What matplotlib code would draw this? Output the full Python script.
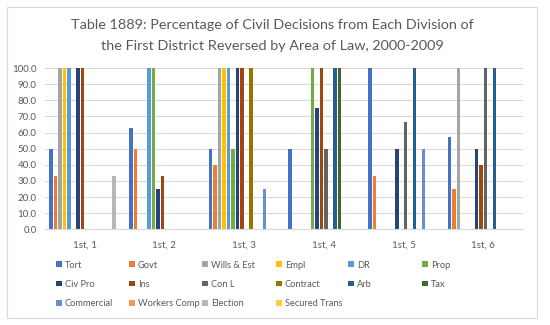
import matplotlib
matplotlib.use("Agg")
import matplotlib.pyplot as plt
from matplotlib.patches import Rectangle, Patch
import numpy as np

plt.rcParams['font.family'] = ['Lato', 'DejaVu Sans']

categories = ["1st, 1", "1st, 2", "1st, 3", "1st, 4", "1st, 5", "1st, 6"]
series_names = ["Tort", "Govt", "Wills & Est", "Empl", "DR", "Prop",
                "Civ Pro", "Ins", "Con L", "Contract", "Arb", "Tax",
                "Commercial", "Workers Comp", "Election", "Secured Trans"]
colors = ["#4472C4", "#ED7D31", "#A5A5A5", "#FFC000", "#5B9BD5", "#70AD47",
          "#264478", "#9E480E", "#636363", "#997300", "#255E91", "#43682B",
          "#698ED0", "#F1975A", "#B7B7B7", "#FFCD33"]
title_lines = ["Table 1889: Percentage of Civil Decisions from Each Division of",
               "the First District Reversed by Area of Law, 2000-2009"]

tort         = [50.0, 62.5, 50.0, 50.0, 100.0, 57.1]
govt         = [33.3, 50.0, 40.0, 0, 33.3, 25.0]
wills_est    = [100.0, 0, 100.0, 0, 0, 100.0]
empl         = [100.0, 0, 100.0, 0, 0, 0]
dr           = [100.0, 100.0, 100.0, 0, 0, 0]
prop         = [0, 100.0, 50.0, 100.0, 0, 0]
civ_pro      = [100.0, 25.0, 100.0, 75.0, 50.0, 50.0]
ins          = [100.0, 33.3, 100.0, 100.0, 0, 40.0]
con_l        = [0, 0, 0, 50.0, 66.7, 100.0]
contract     = [0, 0, 100.0, 0, 0, 0]
arb          = [0, 0, 0, 100.0, 100.0, 100.0]
tax          = [0, 0, 0, 100.0, 0, 0]
commercial   = [0, 0, 25.0, 0, 50.0, 0]
workers_comp = [0, 0, 0, 0, 0, 0]
election     = [33.3, 0, 0, 0, 0, 0]
secured      = [0, 0, 0, 0, 0, 0]

data = [tort, govt, wills_est, empl, dr, prop, civ_pro, ins, con_l, contract,
        arb, tax, commercial, workers_comp, election, secured]

W, H = 550, 325
fig = plt.figure(figsize=(W / 100, H / 100), dpi=100)
fig.patch.set_facecolor("white")
fig.patches.append(Rectangle((7 / W, 1 - 318 / H), 530 / W, 311 / H,
                             transform=fig.transFigure, fill=False,
                             edgecolor="#D9D9D9", linewidth=0.8))

ax = fig.add_axes([45 / W, 1 - 229.3 / H, 478 / W, (229.3 - 68) / H])
n = len(series_names)
step = 0.9 / n
x = np.arange(len(categories))
for i, (vals, c) in enumerate(zip(data, colors)):
    ax.bar(x - 0.45 + step * (i + 0.5), vals, width=step * 0.78, color=c,
           label=series_names[i])

ax.set_xlim(-0.5, len(categories) - 0.5)
ax.set_ylim(0, 100)
ax.set_yticks(np.arange(0, 101, 10))
ax.set_yticklabels([f"{v:.1f}" for v in np.arange(0, 101, 10)])
ax.set_xticks(x)
ax.set_xticklabels(categories)
ax.grid(axis="y", color="#D9D9D9", linewidth=0.75)
ax.set_axisbelow(True)
for s in ["top", "right", "left"]:
    ax.spines[s].set_visible(False)
ax.spines["bottom"].set_color("#D9D9D9")
ax.tick_params(axis="both", length=0, labelsize=7, colors="#595959")
ax.tick_params(axis="x", pad=8)
ax.tick_params(axis="y", pad=6)

for k, (line, yy) in enumerate(zip(title_lines, [25, 45.5])):
    fig.text(0.5 * (7 + 537) / W, 1 - yy / H, line,
             ha="center", va="center", fontsize=10.4, color="#595959")

col_x = [56, 129, 202, 276, 348, 422]
for col in range(6):
    idx = [i for i in range(n) if i % 6 == col]
    handles = [Patch(facecolor=colors[i], edgecolor="none") for i in idx]
    labels = [series_names[i] for i in idx]
    fig.legend(handles, labels, loc="upper left",
               bbox_to_anchor=(col_x[col] / W, 1 - 260.5 / H),
               frameon=False, fontsize=6.7, labelcolor="#595959",
               handlelength=0.6, handleheight=0.6, handletextpad=0.35,
               labelspacing=1.1, borderpad=0, borderaxespad=0)

fig.savefig("out.png", dpi=100)
